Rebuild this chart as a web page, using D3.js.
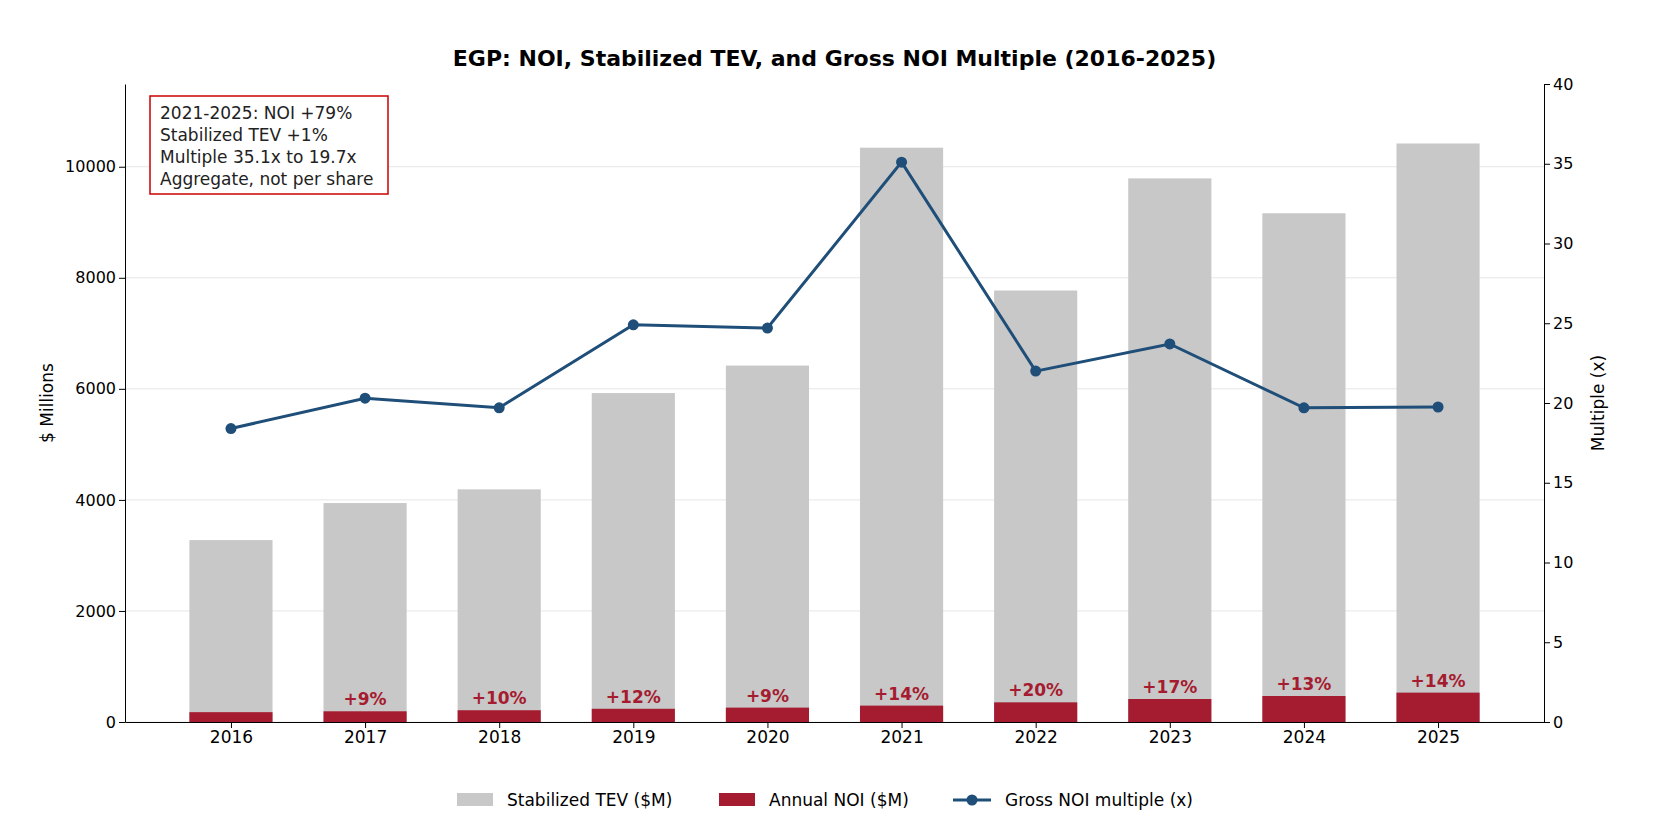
<!DOCTYPE html>
<html><head><meta charset="utf-8">
<script src="https://cdn.jsdelivr.net/npm/d3@7"></script>
<style>body{margin:0;background:#fff;font-family:"DejaVu Sans",sans-serif}</style>
</head><body><div id="chart"></div>
<script>
// chart data
const years = ["2016","2017","2018","2019","2020","2021","2022","2023","2024","2025"]
const tev = [3276, 3943, 4190, 5924, 6419, 10343, 7771, 9790, 9162, 10419]
const noi = [177, 193, 212, 238, 259, 295, 354, 414, 468, 529]
const multiple = [18.4, 20.3, 19.7, 24.9, 24.7, 35.1, 22.0, 23.7, 19.7, 19.75]
const growth = ["", "+9%", "+10%", "+12%", "+9%", "+14%", "+20%", "+17%", "+13%", "+14%"]
const leftTicks = [0, 2000, 4000, 6000, 8000, 10000]
const rightTicks = [0, 5, 10, 15, 20, 25, 30, 35, 40]
const noteLines = ["2021-2025: NOI +79%", "Stabilized TEV +1%", "Multiple 35.1x to 19.7x", "Aggregate, not per share"]

const MARGIN = { LEFT: 125, RIGHT: 116, TOP: 84, BOTTOM: 108 }
const W = 1660, H = 830
const WIDTH = W - MARGIN.LEFT - MARGIN.RIGHT
const HEIGHT = H - MARGIN.TOP - MARGIN.BOTTOM

const svg = d3.select("#chart").append("svg").attr("width", W).attr("height", H)
const g = svg.append("g").attr("transform", `translate(${MARGIN.LEFT},${MARGIN.TOP})`)

const x = d3.scalePoint().domain(years).range([0, WIDTH]).padding(0.79)
const bw = x.step() * 0.62
const y = d3.scaleLinear().domain([0, 11490]).range([HEIGHT, 0])
const y2 = d3.scaleLinear().domain([0, 40]).range([HEIGHT, 0])

// grid
g.selectAll("line.grid").data(leftTicks).join("line")
 .attr("x1", 0).attr("x2", WIDTH)
 .attr("y1", d => y(d)).attr("y2", d => y(d))
 .attr("stroke", "#e6e6e6").attr("stroke-width", 1)

// bars
g.selectAll("rect.tev").data(tev).join("rect")
 .attr("x", (d, i) => x(years[i]) - bw / 2).attr("width", bw)
 .attr("y", d => y(d)).attr("height", d => HEIGHT - y(d))
 .attr("fill", "#c8c8c8")
g.selectAll("rect.noi").data(noi).join("rect")
 .attr("x", (d, i) => x(years[i]) - bw / 2).attr("width", bw)
 .attr("y", d => y(d)).attr("height", d => HEIGHT - y(d))
 .attr("fill", "#a51c30")
g.selectAll("text.gr").data(growth).join("text")
 .attr("x", (d, i) => x(years[i])).attr("y", (d, i) => y(noi[i]) - 6)
 .attr("text-anchor", "middle").attr("font-size", 17).attr("font-weight", "bold")
 .attr("fill", "#a51c30").text(d => d)

// line
const line = d3.line().x((d, i) => x(years[i])).y(d => y2(d))
g.append("path").datum(multiple).attr("d", line)
 .attr("fill", "none").attr("stroke", "#1f4e79").attr("stroke-width", 3)
g.selectAll("circle").data(multiple).join("circle")
 .attr("cx", (d, i) => x(years[i])).attr("cy", d => y2(d)).attr("r", 5.5).attr("fill", "#1f4e79")

// axes
const fmt = d3.format("d")
const ax = g.append("g").attr("transform", `translate(0,${HEIGHT})`)
 .call(d3.axisBottom(x).tickSize(6).tickSizeOuter(0))
const ayl = g.append("g").call(d3.axisLeft(y).tickValues(leftTicks).tickFormat(fmt).tickSizeOuter(0))
const ayr = g.append("g").attr("transform", `translate(${WIDTH},0)`)
 .call(d3.axisRight(y2).tickValues(rightTicks).tickSizeOuter(0))
;[ax, ayl, ayr].forEach(a => {
  a.selectAll("text").attr("font-size", 16).attr("fill", "#000").attr("font-family", "DejaVu Sans")
  a.selectAll("line,path").attr("stroke", "#000")
})
ax.selectAll("text").attr("font-size", 17)

g.append("text").attr("transform", "rotate(-90)").attr("x", -HEIGHT / 2).attr("y", -72)
 .attr("text-anchor", "middle").attr("font-size", 17).text("$ Millions")
g.append("text").attr("transform", "rotate(-90)").attr("x", -HEIGHT / 2).attr("y", WIDTH + 60)
 .attr("text-anchor", "middle").attr("font-size", 17).text("Multiple (x)")

// title
svg.append("text").attr("x", MARGIN.LEFT + WIDTH / 2).attr("y", 66).attr("text-anchor", "middle")
 .attr("font-size", 22).attr("font-weight", "bold").text("EGP: NOI, Stabilized TEV, and Gross NOI Multiple (2016-2025)")

// note box
const note = g.append("g").attr("transform", "translate(25,12)")
note.append("rect").attr("width", 238).attr("height", 98).attr("fill", "#fff")
 .attr("stroke", "#cc0000").attr("stroke-width", 1.5)
note.selectAll("text").data(noteLines).join("text")
 .attr("x", 10).attr("y", (d, i) => 23 + i * 22).attr("font-size", 17).attr("fill", "#222").text(d => d)

// legend
const leg = svg.append("g").attr("transform", "translate(457,800)")
leg.append("rect").attr("x", 0).attr("y", -7).attr("width", 36).attr("height", 13).attr("fill", "#c8c8c8")
leg.append("text").attr("x", 50).attr("y", 6).attr("font-size", 17).text("Stabilized TEV ($M)")
leg.append("rect").attr("x", 262).attr("y", -7).attr("width", 36).attr("height", 13).attr("fill", "#a51c30")
leg.append("text").attr("x", 312).attr("y", 6).attr("font-size", 17).text("Annual NOI ($M)")
leg.append("line").attr("x1", 496).attr("x2", 534).attr("y1", 0).attr("y2", 0).attr("stroke", "#1f4e79").attr("stroke-width", 3)
leg.append("circle").attr("cx", 515).attr("cy", 0).attr("r", 5.5).attr("fill", "#1f4e79")
leg.append("text").attr("x", 548).attr("y", 6).attr("font-size", 17).text("Gross NOI multiple (x)")
</script></body></html>
